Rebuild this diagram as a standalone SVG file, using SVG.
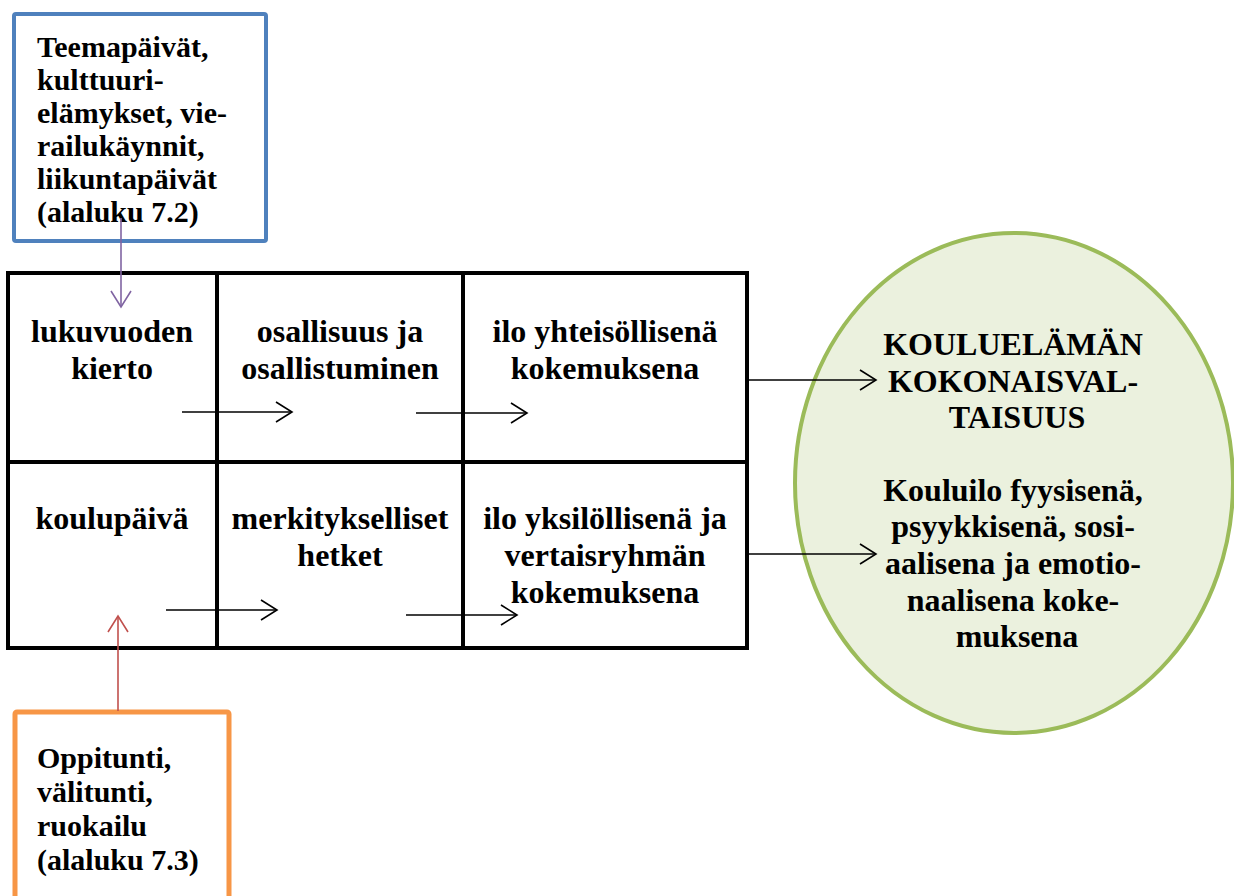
<svg xmlns="http://www.w3.org/2000/svg" width="1234" height="896" viewBox="0 0 1234 896">
  <defs>
    <style>
      .lbl { font-weight: bold; fill: #000; }
      .box { font-size: 30px; }
      .cell { font-size: 32px; text-anchor: middle; }
      .grid { fill: none; stroke: #000; stroke-width: 4; }
      .flow { fill: none; stroke: #000; stroke-width: 1.6; }
    </style>
    <marker id="arrowBlack" viewBox="0 0 20 24" refX="18" refY="12" markerWidth="20" markerHeight="24" markerUnits="userSpaceOnUse" orient="auto">
      <path d="M2,2 L18,12 L2,22" fill="none" stroke="#000" stroke-width="1.6"/>
    </marker>
    <marker id="arrowPurple" viewBox="0 0 20 24" refX="18" refY="12" markerWidth="20" markerHeight="24" markerUnits="userSpaceOnUse" orient="auto">
      <path d="M2,2 L18,12 L2,22" fill="none" stroke="#8064A2" stroke-width="1.6"/>
    </marker>
    <marker id="arrowRed" viewBox="0 0 20 24" refX="18" refY="12" markerWidth="20" markerHeight="24" markerUnits="userSpaceOnUse" orient="auto">
      <path d="M2,2 L18,12 L2,22" fill="none" stroke="#C0504D" stroke-width="1.6"/>
    </marker>
  </defs>

  <rect width="1234" height="896" fill="#fff"/>

  <g font-family="Liberation Serif, Tinos, Times New Roman, DejaVu Serif, serif">
  <!-- Upper source box: theme days etc. -->
  <g id="teemapaivat">
    <rect x="14" y="14" width="252" height="227" rx="2" fill="#fff" stroke="#4F81BD" stroke-width="4"/>
    <text class="lbl box">
      <tspan x="37" y="57">Teemapäivät,</tspan>
      <tspan x="37" y="90">kulttuuri-</tspan>
      <tspan x="37" y="123">elämykset, vie-</tspan>
      <tspan x="37" y="156">railukäynnit,</tspan>
      <tspan x="37" y="189">liikuntapäivät</tspan>
      <tspan x="37" y="222">(alaluku 7.2)</tspan>
    </text>
  </g>

  <!-- Lower source box: lessons, breaks, lunch -->
  <g id="oppitunti">
    <rect x="15" y="712" width="214" height="210" rx="2" fill="#fff" stroke="#F79646" stroke-width="5"/>
    <text class="lbl box">
      <tspan x="37" y="768">Oppitunti,</tspan>
      <tspan x="37" y="802">välitunti,</tspan>
      <tspan x="37" y="836">ruokailu</tspan>
      <tspan x="37" y="870">(alaluku 7.3)</tspan>
    </text>
  </g>

  <!-- Result ellipse -->
  <g id="kokonaisvaltaisuus">
    <ellipse cx="1014" cy="483" rx="219" ry="250" fill="#EBF1DE" stroke="#9BBB59" stroke-width="4"/>
    <text class="lbl cell">
      <tspan x="1017" y="355">KOULUELÄMÄN</tspan>
      <tspan x="1017" y="392">KOKONAISVAL-</tspan>
      <tspan x="1017" y="428">TAISUUS</tspan>
    </text>
    <text class="lbl cell">
      <tspan x="1017" y="501">Kouluilo fyysisenä,</tspan>
      <tspan x="1017" y="537">psyykkisenä, sosi-</tspan>
      <tspan x="1017" y="574">aalisena ja emotio-</tspan>
      <tspan x="1017" y="611">naalisena koke-</tspan>
      <tspan x="1017" y="647">muksena</tspan>
    </text>
  </g>

  <!-- Table of six cells -->
  <g id="taulukko">
    <rect class="grid" x="8" y="273" width="739" height="375"/>
    <line class="grid" x1="8" y1="462" x2="747" y2="462"/>
    <line class="grid" x1="217" y1="273" x2="217" y2="648"/>
    <line class="grid" x1="463" y1="273" x2="463" y2="648"/>
  </g>

  <g id="lukuvuoden-kierto">
    <text class="lbl cell"><tspan x="112" y="342">lukuvuoden</tspan><tspan x="112" y="379">kierto</tspan></text>
  </g>
  <g id="osallisuus">
    <text class="lbl cell"><tspan x="340" y="342">osallisuus ja</tspan><tspan x="340" y="379">osallistuminen</tspan></text>
  </g>
  <g id="ilo-yhteisollisena">
    <text class="lbl cell"><tspan x="605" y="342">ilo yhteisöllisenä</tspan><tspan x="605" y="379">kokemuksena</tspan></text>
  </g>
  <g id="koulupaiva">
    <text class="lbl cell"><tspan x="112" y="529">koulupäivä</tspan></text>
  </g>
  <g id="merkitykselliset-hetket">
    <text class="lbl cell"><tspan x="340" y="529">merkitykselliset</tspan><tspan x="340" y="566">hetket</tspan></text>
  </g>
  <g id="ilo-yksilollisena">
    <text class="lbl cell"><tspan x="605" y="529">ilo yksilöllisenä ja</tspan><tspan x="605" y="566">vertaisryhmän</tspan><tspan x="605" y="603">kokemuksena</tspan></text>
  </g>
  </g>

  <!-- Connectors -->
  <g id="connectors">
    <line x1="121" y1="218" x2="121" y2="307" stroke="#8064A2" stroke-width="1.6" marker-end="url(#arrowPurple)"/>
    <line x1="118" y1="711" x2="118" y2="616" stroke="#C0504D" stroke-width="1.6" marker-end="url(#arrowRed)"/>
    <line class="flow" x1="182" y1="412" x2="292" y2="412" marker-end="url(#arrowBlack)"/>
    <line class="flow" x1="416" y1="413" x2="527" y2="413" marker-end="url(#arrowBlack)"/>
    <line class="flow" x1="166" y1="610" x2="277" y2="610" marker-end="url(#arrowBlack)"/>
    <line class="flow" x1="406" y1="615" x2="517" y2="615" marker-end="url(#arrowBlack)"/>
    <line class="flow" x1="747" y1="380" x2="876" y2="380" marker-end="url(#arrowBlack)"/>
    <line class="flow" x1="747" y1="554" x2="876" y2="554" marker-end="url(#arrowBlack)"/>
  </g>
</svg>
